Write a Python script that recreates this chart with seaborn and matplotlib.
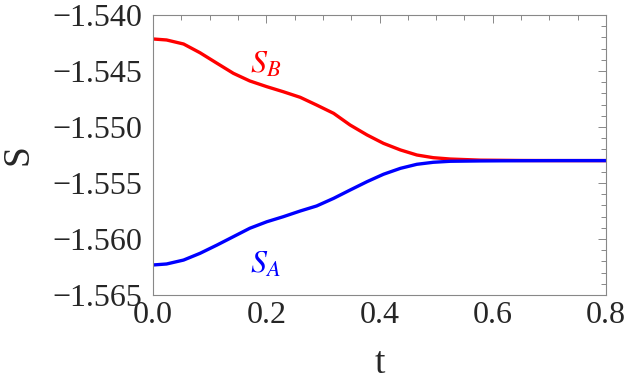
import matplotlib
matplotlib.use("Agg")
import matplotlib.pyplot as plt
from matplotlib.ticker import MultipleLocator, FuncFormatter
import seaborn as sns
import pandas as pd

# valores
t_vals = [0.0, 0.024, 0.054, 0.083, 0.113, 0.142, 0.171, 0.201, 0.230, 0.260,
          0.289, 0.319, 0.348, 0.378, 0.407, 0.437, 0.466, 0.495, 0.525, 0.578,
          0.65, 0.72, 0.8]
s_b = [-1.54214, -1.54223, -1.54259, -1.54337, -1.54431, -1.54521, -1.54589,
       -1.54640, -1.54685, -1.54735, -1.54804, -1.54878, -1.54982, -1.55071,
       -1.55146, -1.55205, -1.55250, -1.55274, -1.55286, -1.55296, -1.55299,
       -1.55300, -1.55300]
s_a = [-1.56232, -1.56223, -1.56188, -1.56128, -1.56054, -1.55979, -1.55904,
       -1.55846, -1.55801, -1.55750, -1.55705, -1.55637, -1.55563, -1.55488,
       -1.55422, -1.55369, -1.55333, -1.55315, -1.55306, -1.55303, -1.55301,
       -1.55300, -1.55300]

df = pd.DataFrame({
    "t": t_vals * 2,
    "S": s_b + s_a,
    "serie": ["B"] * len(t_vals) + ["A"] * len(t_vals),
})

sns.set_style("white")
plt.rcParams["font.family"] = ["Liberation Serif", "DejaVu Serif"]
plt.rcParams["mathtext.fontset"] = "stix"

fig = plt.figure(figsize=(6.25, 3.87), dpi=100)
ax = fig.add_axes([153 / 625, 1 - 295 / 387, (606 - 153) / 625, (295 - 15) / 387])

sns.lineplot(data=df, x="t", y="S", hue="serie",
             palette={"B": "#ff0000", "A": "#0000ff"},
             linewidth=2.4, legend=False, ax=ax)

ax.set_xlim(0, 0.8)
ax.set_ylim(-1.565, -1.540)
ax.xaxis.set_major_locator(MultipleLocator(0.2))
ax.xaxis.set_minor_locator(MultipleLocator(0.05))
ax.yaxis.set_major_locator(MultipleLocator(0.005))
ax.yaxis.set_minor_locator(MultipleLocator(0.001))
ax.xaxis.set_major_formatter(FuncFormatter(lambda v, p: f"{v:.1f}"))
ax.yaxis.set_major_formatter(
    FuncFormatter(lambda v, p: f"{v:.3f}".replace("-", "\u2212")))

for s in ax.spines.values():
    s.set_color("#888888")
    s.set_linewidth(0.8)
ax.tick_params(which="both", direction="in", top=True, right=True,
               color="#888888", width=0.7)
ax.tick_params(which="major", length=6, labelsize=23)
ax.tick_params(axis="x", which="major", pad=4)
ax.tick_params(axis="y", which="major", pad=8)
ax.tick_params(which="minor", length=3.5)

ax.set_xlabel("t", fontsize=27, labelpad=12)
ax.set_ylabel("S", fontsize=27, labelpad=12)

ax.text(0.198, -1.54446, "$S_B$", color="#ff0000", fontsize=23,
        ha="center", va="center")
ax.text(0.198, -1.56232, "$S_A$", color="#0000ff", fontsize=23,
        ha="center", va="center")

fig.savefig("out.png", dpi=100)
